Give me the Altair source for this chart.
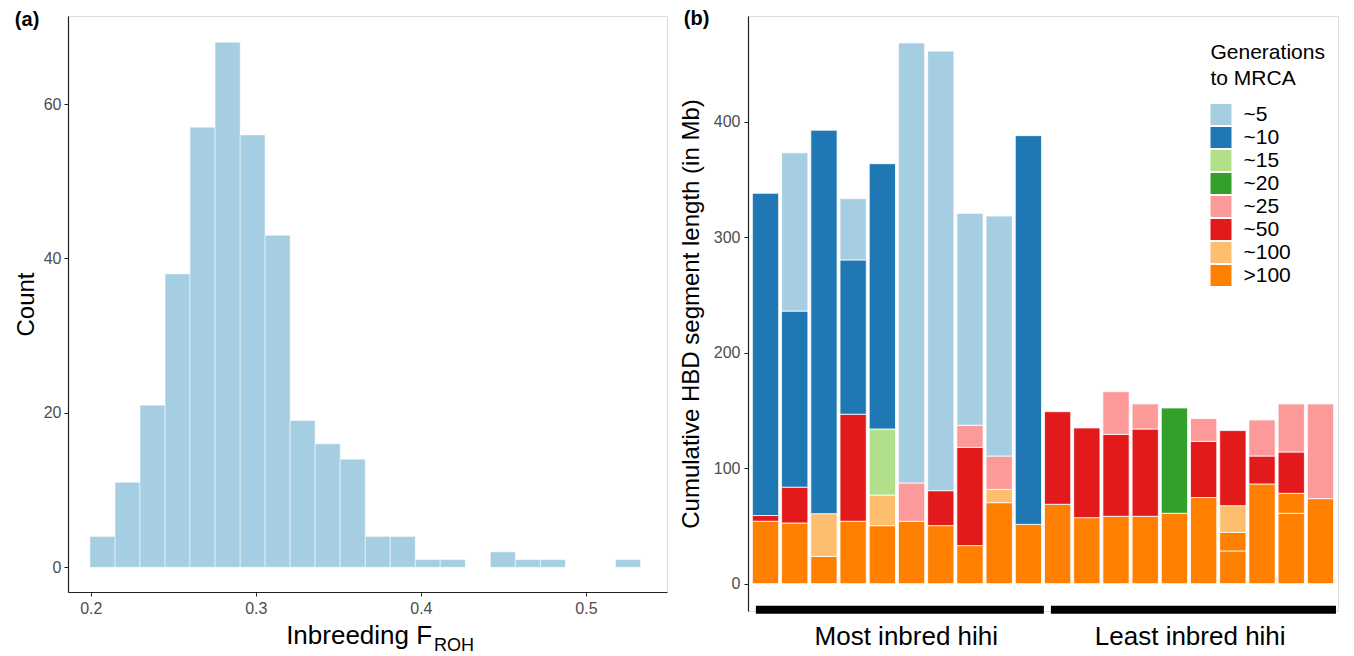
import altair as alt
import pandas as pd

# ---------------- Panel (a): histogram of inbreeding F_ROH ----------------
bin_edges = [0.1995, 0.2147, 0.2298, 0.2450, 0.2601, 0.2753, 0.2905, 0.3056,
             0.3208, 0.3359, 0.3511, 0.3663, 0.3814, 0.3966, 0.4117, 0.4269,
             0.4421, 0.4572, 0.4724, 0.4875, 0.5027, 0.5179, 0.5330]
hist_counts = [4, 11, 21, 38, 57, 68, 56, 43, 19, 16, 14, 4, 4, 1, 1, 0, 2, 1, 1, 0, 0, 1]

# ---------------- Panel (b): stacked HBD segment length ----------------
gen_labels = ["~5", "~10", "~15", "~20", "~25", "~50", "~100", ">100"]
gen_colors = ["#A6CEE3", "#1F78B4", "#B2DF8A", "#33A02C", "#FB9A99", "#E31A1C", "#FDBF6F", "#FF7F00"]
bird_index = list(range(1, 21))

seg_gt100 = [54, 52.5, 23.6, 54, 50.2, 54, 50.2, 32.9, 70.1, 51.3,
             68.7, 57.1, 58.3, 58.3, 60.9, 74.5, 44.4, 86.3, 78.2, 73.6]
seg_100 = [0, 0, 37, 0, 26.5, 0, 0, 0, 11.5, 0,
           0, 0, 0, 0, 0, 0, 23.1, 0, 0, 0]
seg_50 = [5, 31, 0, 92.7, 0, 0, 30.3, 85.1, 0, 0,
          80.2, 77.7, 71, 75.6, 0, 48.7, 65, 24.2, 35.8, 0]
seg_25 = [0, 0, 0, 0, 0, 33.2, 0, 19.1, 28.9, 0,
          0, 0, 36.9, 21.7, 0, 19.7, 0, 31.2, 41.6, 82]
seg_20 = [0, 0, 0, 0, 0, 0, 0, 0, 0, 0,
          0, 0, 0, 0, 91.2, 0, 0, 0, 0, 0]
seg_15 = [0, 0, 0, 0, 57.2, 0, 0, 0, 0, 0,
          0, 0, 0, 0, 0, 0, 0, 0, 0, 0]
seg_10 = [279, 152.5, 332, 133.6, 229.7, 0, 0, 0, 0, 336.6,
          0, 0, 0, 0, 0, 0, 0, 0, 0, 0]
seg_5 = [0, 137, 0, 53.1, 0, 381, 380.6, 183.5, 207.8, 0,
         0, 0, 0, 0, 0, 0, 0, 0, 0, 0]
# >100 segments drawn as two pieces in these birds
gt100_split_bar = [17, 19]
gt100_split_at = [28.3, 60.9]

group_labels = ["Most inbred hihi", "Least inbred hihi"]
group_start = [0.67, 10.77]
group_end = [10.53, 20.53]
group_center = [5.82, 15.54]

FONT = "Liberation Sans"
TICK_COL = "#4d4d4d"
AX_COL = "#222222"

# ---------- build tables ----------
hist_df = pd.DataFrame({
    "lo": bin_edges[:-1],
    "hi": bin_edges[1:],
    "count": hist_counts,
})
hist_df = hist_df[hist_df["count"] > 0]

series = {">100": seg_gt100, "~100": seg_100, "~50": seg_50, "~25": seg_25,
          "~20": seg_20, "~15": seg_15, "~10": seg_10, "~5": seg_5}
stack_order = [">100", "~100", "~50", "~25", "~20", "~15", "~10", "~5"]
rows = []
for i, b in enumerate(bird_index):
    base = 0.0
    for cat in stack_order:
        v = series[cat][i]
        if v <= 0:
            continue
        if cat == ">100" and b in gt100_split_bar:
            cut = gt100_split_at[gt100_split_bar.index(b)]
            rows.append(dict(bird=b, gen=cat, y0=0.0, y1=cut))
            rows.append(dict(bird=b, gen=cat, y0=cut, y1=base + v))
        else:
            rows.append(dict(bird=b, gen=cat, y0=base, y1=base + v))
        base += v
stack_df = pd.DataFrame(rows)

group_df = pd.DataFrame({"label": group_labels, "start": group_start,
                         "end": group_end, "center": group_center})

# ---------- Panel (a) ----------
xa_scale = alt.Scale(domain=[0.1862, 0.5491], nice=False, zero=False)
ya_scale = alt.Scale(domain=[-3.2, 71.4], nice=False, zero=False)

hist = alt.Chart(hist_df).mark_rect(color="#A6CEE3", stroke="#FFFFFF", strokeWidth=0.5).encode(
    x=alt.X("lo:Q", scale=xa_scale,
            axis=alt.Axis(values=[0.2, 0.3, 0.4, 0.5], format=".1f", title=None, grid=False,
                          domainColor=AX_COL, domainWidth=1.2, tickColor=AX_COL, tickSize=4,
                          labelFontSize=16, labelColor=TICK_COL, labelFont=FONT, labelPadding=4)),
    x2="hi:Q",
    y=alt.Y("count:Q", scale=ya_scale,
            axis=alt.Axis(values=[0, 20, 40, 60], title="Count", grid=False,
                          domainColor=AX_COL, domainWidth=1.2, tickColor=AX_COL, tickSize=4,
                          labelFontSize=16, labelColor=TICK_COL, labelFont=FONT, labelPadding=3,
                          titleFontSize=24, titleFont=FONT, titleFontWeight="normal",
                          titleColor="black", titlePadding=5)),
    y2=alt.datum(0),
)

a_label = alt.Chart(pd.DataFrame({"t": ["(a)"]})).mark_text(
    font=FONT, fontSize=20, fontWeight="bold", align="center", baseline="middle", color="black"
).encode(x=alt.datum(0.1614), y=alt.datum(70.9), text="t:N")

xa_title = alt.Chart(pd.DataFrame({"t": ["Inbreeding F"]})).mark_text(
    font=FONT, fontSize=26, align="right", baseline="alphabetic", color="black"
).encode(x=alt.datum(0.4068), y=alt.datum(-9.9), text="t:N")

xa_sub = alt.Chart(pd.DataFrame({"t": ["ROH"]})).mark_text(
    font=FONT, fontSize=18, align="left", baseline="alphabetic", color="black"
).encode(x=alt.datum(0.4080), y=alt.datum(-10.9), text="t:N")

left = alt.layer(hist, a_label, xa_title, xa_sub).properties(width=599, height=576)

# ---------- Panel (b) ----------
xb_scale = alt.Scale(domain=[0.4, 20.6], nice=False, zero=False)
yb_scale = alt.Scale(domain=[-23.7, 491.5], nice=False, zero=False)

bars = alt.Chart(stack_df).transform_calculate(
    xl="datum.bird - 0.45", xr="datum.bird + 0.45"
).mark_rect(stroke="#FFFFFF", strokeWidth=0.8).encode(
    x=alt.X("xl:Q", scale=xb_scale, axis=None),
    x2="xr:Q",
    y=alt.Y("y0:Q", scale=yb_scale,
            axis=alt.Axis(values=[0, 100, 200, 300, 400], title="Cumulative HBD segment length (in Mb)",
                          grid=False, domainColor=AX_COL, domainWidth=1.2, tickColor=AX_COL, tickSize=4,
                          labelFontSize=16, labelColor=TICK_COL, labelFont=FONT, labelPadding=4,
                          titleFontSize=24, titleFont=FONT, titleFontWeight="normal",
                          titleColor="black", titlePadding=10)),
    y2="y1:Q",
    color=alt.Color("gen:N", scale=alt.Scale(domain=gen_labels, range=gen_colors),
                    legend=alt.Legend(title=["Generations", "\u00a0to MRCA"], orient="none",
                                      legendX=462.5, legendY=26, symbolType="square",
                                      symbolSize=441, symbolStrokeWidth=0, symbolOpacity=1,
                                      labelFontSize=21, labelFont=FONT, labelColor="black",
                                      titleFontSize=21, titleFont=FONT, titleFontWeight="normal",
                                      titleColor="black", titleLineHeight=26, titlePadding=15,
                                      labelOffset=12, rowPadding=1, padding=0)),
)

rules = alt.Chart(group_df).mark_rule(color="black", strokeWidth=8, strokeCap="butt").encode(
    x=alt.X("start:Q", scale=xb_scale), x2="end:Q", y=alt.datum(-22.6)
)

glabels = alt.Chart(group_df).mark_text(
    font=FONT, fontSize=26, align="center", baseline="middle", color="black"
).encode(x=alt.X("center:Q", scale=xb_scale), y=alt.datum(-46.5), text="label:N")

b_label = alt.Chart(pd.DataFrame({"t": ["(b)"]})).mark_text(
    font=FONT, fontSize=20, fontWeight="bold", align="center", baseline="middle", color="black"
).encode(x=alt.datum(-1.36), y=alt.datum(489.0), text="t:N")

right = alt.layer(bars, rules, glabels, b_label).properties(width=590, height=595)

chart = alt.hconcat(left, right, spacing=81, bounds="flush").resolve_scale(
    color="independent", x="independent", y="independent"
).resolve_legend(color="independent").properties(
    padding={"left": 5, "top": 0, "right": 5, "bottom": 5}
).configure_view(stroke=None).configure(font=FONT, background="white")

chart.save("out.html", embed_options={"renderer": "svg", "actions": False})
